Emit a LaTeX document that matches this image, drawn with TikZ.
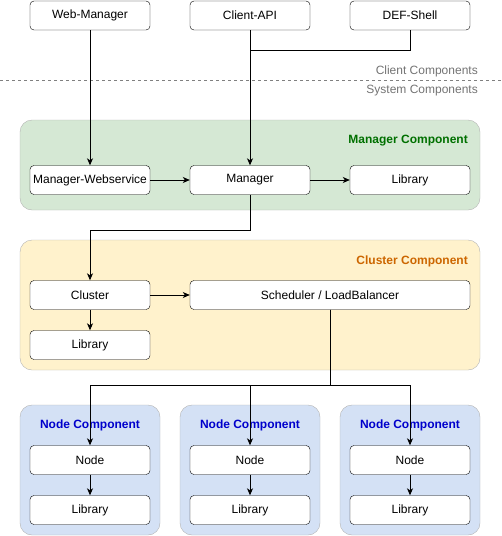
\documentclass[tikz,border=0pt]{standalone}
\usepackage{fontspec}
\setmainfont{Liberation Sans}
\usetikzlibrary{arrows.meta}
\definecolor{mgrfill}{HTML}{D5E8D4}
\definecolor{clufill}{HTML}{FFF2CC}
\definecolor{nodefill}{HTML}{D4E1F5}
\definecolor{mgrtext}{HTML}{007000}
\definecolor{clutext}{HTML}{CC6600}
\definecolor{nodetext}{HTML}{0000CC}
\definecolor{boxline}{HTML}{B3B3B3}
\tikzset{
  comp/.style={draw=black,fill=white,rounded corners=4pt,minimum width=120pt,minimum height=29pt,inner sep=0pt,font=\fontsize{12}{14}\selectfont},
  container/.style={draw=boxline,rounded corners=12pt},
  title/.style={font=\bfseries\fontsize{12}{14}\selectfont,inner sep=0pt},
  conn/.style={-{Stealth[length=7pt,width=6pt,inset=2pt]},line width=0.8pt},
  line/.style={line width=0.8pt}
}
\begin{document}
\begin{tikzpicture}[x=1pt,y=-1pt]
\useasboundingbox (0,0) rectangle (502,536);
% clients
\node[comp] (webmgr) at (90,15.5) {Web-Manager};
\node[comp] (clientapi) at (250,15.5) {Client-API};
\node[comp] (defshell) at (410,15.5) {DEF-Shell};
\draw[dashed,gray] (0,80) -- (502,80);
\node[anchor=east,text=gray!90!black,font=\fontsize{12}{14}\selectfont,inner sep=0pt] (clientlbl) at (478,71) {Client Components};
\node[anchor=east,text=gray!90!black,font=\fontsize{12}{14}\selectfont,inner sep=0pt] (systemlbl) at (478,90.5) {System Components};

% manager component
\draw[container,fill=mgrfill] (20,120) rectangle (480,210);
\node[title,anchor=east,text=mgrtext] (mgrtitle) at (468,141) {Manager Component};
\node[comp] (mgrws) at (90,180) {Manager-Webservice};
\node[comp] (manager) at (250,180) {Manager};
\node[comp] (mgrlib) at (410,180) {Library};

% cluster component
\draw[container,fill=clufill] (20,240) rectangle (480,370);
\node[title,anchor=east,text=clutext] (clutitle) at (468,261) {Cluster Component};
\node[comp] (cluster) at (90,295) {Cluster};
\node[comp,minimum width=280pt] (sched) at (330,295) {Scheduler / LoadBalancer};
\node[comp] (clulib) at (90,345) {Library};

% node components
\foreach \i/\x in {1/90, 2/250, 3/410} {
  \draw[container,fill=nodefill] (\x-70,405) rectangle (\x+70,535);
  \node[title,text=nodetext] (ntitle\i) at (\x,425) {Node Component};
  \node[comp] (node\i) at (\x,460) {Node};
  \node[comp] (nlib\i) at (\x,510) {Library};
}

% connectors
\coordinate (join) at (250,50);
\coordinate (down) at (250,230);
\coordinate (split) at (330,385);
\draw[conn] (webmgr) -- (mgrws);
\draw[conn] (clientapi) -- (manager);
\draw[line] (defshell) |- (join);
\draw[conn] (mgrws) -- (manager);
\draw[conn] (manager) -- (mgrlib);
\draw[conn] (manager) -- (down) -| (cluster);
\draw[conn] (cluster) -- (sched);
\draw[conn] (cluster) -- (clulib);
\foreach \i in {1,2,3} {
  \draw[conn] (sched.south) -- (split) -| (node\i.north);
  \draw[conn] (node\i) -- (nlib\i);
}
\end{tikzpicture}
\end{document}
